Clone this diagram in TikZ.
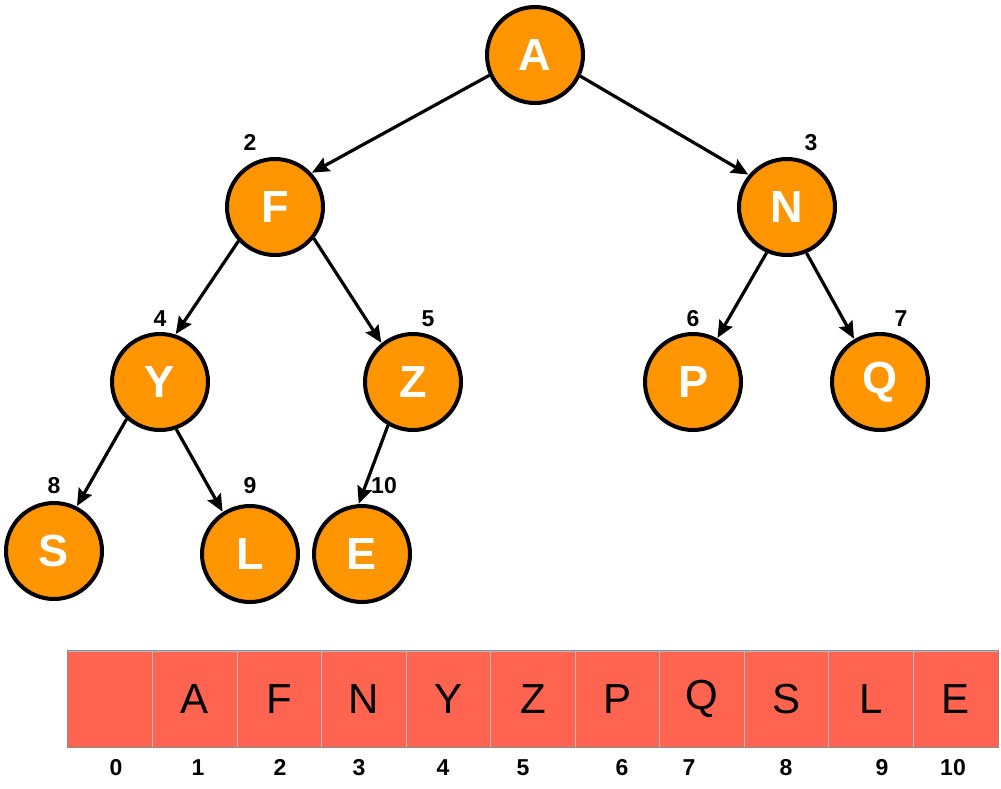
\documentclass[tikz,border=0pt]{standalone}
\usepackage{fontspec}
\setmainfont{Liberation Sans}
\usetikzlibrary{arrows.meta}
\definecolor{nodeorange}{HTML}{FF9500}
\definecolor{cellred}{HTML}{FF6450}
\definecolor{celldiv}{HTML}{B8B8C0}
\definecolor{cellborder}{HTML}{8C8C8C}
\tikzset{
  treenode/.style={circle, draw=black, line width=4pt, fill=nodeorange, minimum size=96pt, inner sep=0pt,
    text=white, font=\fontsize{45}{45}\selectfont\bfseries},
  idx/.style={font=\fontsize{23}{23}\selectfont\bfseries, text=black, inner sep=0pt, text height=16.5pt, text depth=0pt},
  edge/.style={line width=3.2pt, -{Stealth[length=17pt,width=15pt,inset=2.5pt]}, shorten >=0.5pt},
  cell/.style={rectangle, fill=cellred, draw=celldiv, line width=1pt, minimum width=84.55pt, minimum height=96pt, inner sep=0pt,
    font=\fontsize{42}{42}\selectfont},
}
\begin{document}
\begin{tikzpicture}[x=1pt,y=-1pt]
\useasboundingbox (0,0) rectangle (1001,788);
% tree nodes
\node[treenode] (A) at (535,55) {A};
\node[treenode] (F) at (275,207) {F};
\node[treenode] (N) at (787,207) {N};
\node[treenode] (Y) at (160,382) {Y};
\node[treenode] (Z) at (413,382) {Z};
\node[treenode] (P) at (693,382) {P};
\node[treenode] (Q) at (880,382) {Q};
\node[treenode] (S) at (54,551) {S};
\node[treenode] (L) at (250,554) {L};
\node[treenode] (E) at (362,554) {E};
% edges
\draw[edge] (A.204) -- (F.43);
\draw[edge] (A.-25) -- (N.140);
\draw[edge] (F.223) -- (Y.72);
\draw[edge] (F.-39) -- (Z.129);
\draw[edge] (N.246) -- (P.61);
\draw[edge] (N.-67) -- (Q.121);
\draw[edge] (Y.228) -- (S.63);
\draw[edge] (Y.-71) -- (L.123);
\draw[edge] (Z.240) -- (E.94);
% index labels on tree
\node[idx] (i2) at (250,142) {2};
\node[idx] (i3) at (811,142) {3};
\node[idx] (i4) at (160,318) {4};
\node[idx] (i5) at (428,318) {5};
\node[idx] (i6) at (693,318) {6};
\node[idx] (i7) at (901,318) {7};
\node[idx] (i8) at (54,485) {8};
\node[idx] (i9) at (250,485) {9};
\node[idx] (i10) at (384,485) {10};
% array cells
\foreach \i/\t in {0/{},1/A,2/F,3/N,4/Y,5/Z,6/P,7/Q,8/S,9/L,10/E}{
  \node[cell] (c\i) at ({68+84.55*\i+42.27},699) {\t};
}
\draw[cellborder, line width=1.5pt] (c0.north west) rectangle (c10.south east);
% array index labels
\node[idx] (a0) at (116,767) {0};
\node[idx] (a1) at (198,767) {1};
\node[idx] (a2) at (280,767) {2};
\node[idx] (a3) at (359,767) {3};
\node[idx] (a4) at (443,767) {4};
\node[idx] (a5) at (523,767) {5};
\node[idx] (a6) at (622,767) {6};
\node[idx] (a7) at (689,767) {7};
\node[idx] (a8) at (786,767) {8};
\node[idx] (a9) at (882,767) {9};
\node[idx] (a10) at (953,767) {10};
\end{tikzpicture}
\end{document}
